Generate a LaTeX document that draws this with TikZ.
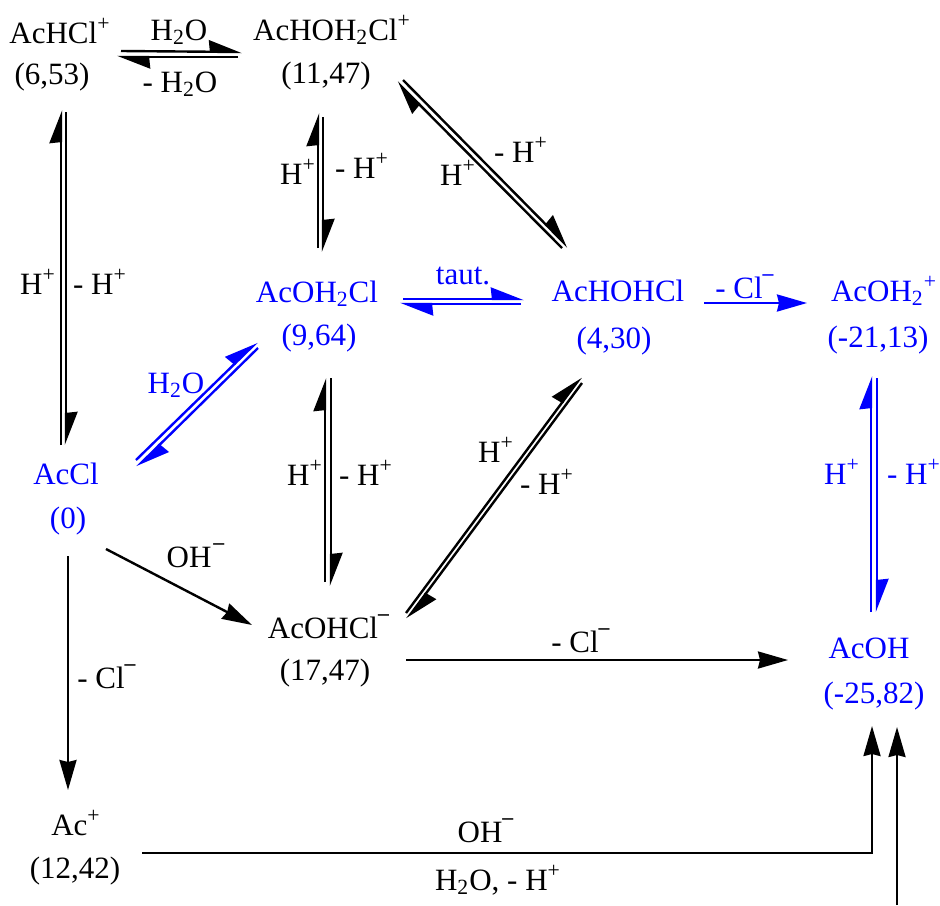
\documentclass[tikz,border=0pt]{standalone}
\usepackage{fontspec}
\setmainfont{Liberation Serif}
\usepackage{tikz}
\usetikzlibrary{arrows.meta}
\definecolor{ChemBlue}{RGB}{0,0,255}
\newcommand{\chgplus}{\raisebox{1.2pt}{\textsuperscript{+}}}
\newcommand{\chgminus}{\raisebox{3.5pt}{\textsuperscript{\textbf{--}}}}
\tikzset{
  txt/.style={anchor=base,inner sep=0pt,font=\fontsize{15.5}{18}\selectfont},
  eqline/.style={line width=1.2pt,-{Stealth[harpoon,length=15pt,width=11.5pt,inset=0.5pt]}},
  oneway/.style={line width=1.2pt,-{Stealth[length=15pt,width=8.5pt,inset=1pt]}}
}
\begin{document}
\begin{tikzpicture}[x=0.5pt,y=-0.5pt]
        \useasboundingbox (0,0) rectangle (940,905);
        % species
        \node[txt] (achcl) at (60,43) {AcHCl\chgplus};
        \node[txt] (achclv) at (52,84) {(6,53)};
        \node[txt] (achoh) at (332,40) {AcHOH\textsubscript{2}Cl\chgplus};
        \node[txt] (achohv) at (326,83) {(11,47)};
        \node[txt,ChemBlue] (acohcl2) at (317,302) {AcOH\textsubscript{2}Cl};
        \node[txt,ChemBlue] (acohcl2v) at (319,345) {(9,64)};
        \node[txt,ChemBlue] (achohcl) at (618,301) {AcHOHCl};
        \node[txt,ChemBlue] (achohclv) at (614,348) {(4,30)};
        \node[txt,ChemBlue] (acohtwo) at (884,301) {AcOH\textsubscript{2}\chgplus};
        \node[txt,ChemBlue] (acohtwov) at (878,347) {(-21,13)};
        \node[txt,ChemBlue] (acl) at (66,484) {AcCl};
        \node[txt,ChemBlue] (aclv) at (68,528) {(0)};
        \node[txt] (acohcl) at (329,638) {AcOHCl\chgminus};
        \node[txt] (acohclv) at (325,680) {(17,47)};
        \node[txt,ChemBlue] (acoh) at (869,658) {AcOH};
        \node[txt,ChemBlue] (acohv) at (874,703) {(-25,82)};
        \node[txt] (acp) at (76,835) {Ac\chgplus};
        \node[txt] (acpv) at (75,878) {(12,42)};
        % labels
        \node[txt] (lwatera) at (179,40) {H\textsubscript{2}O};
        \node[txt] (lwaterb) at (180,92) {- H\textsubscript{2}O};
        \node[txt] (lhpa) at (38,294) {H\chgplus};
        \node[txt] (lhma) at (100,294) {- H\chgplus};
        \node[txt] (lhpb) at (298,184) {H\chgplus};
        \node[txt] (lhmb) at (362,178) {- H\chgplus};
        \node[txt] (lhpc) at (458,185) {H\chgplus};
        \node[txt] (lhmc) at (521,162) {- H\chgplus};
        \node[txt,ChemBlue] (ltaut) at (463,284) {taut.};
        \node[txt,ChemBlue] (lcla) at (745,298) {- Cl\chgminus};
        \node[txt,ChemBlue] (lwaterc) at (176,393) {H\textsubscript{2}O};
        \node[txt] (lhpd) at (305,485) {H\chgplus};
        \node[txt] (lhmd) at (366,485) {- H\chgplus};
        \node[txt] (lhpe) at (496,462) {H\chgplus};
        \node[txt] (lhme) at (547,494) {- H\chgplus};
        \node[txt,ChemBlue] (lhpf) at (842,484) {H\chgplus};
        \node[txt,ChemBlue] (lhmf) at (914,484) {- H\chgplus};
        \node[txt] (loha) at (196,567) {OH\kern1pt\chgminus};
        \node[txt] (lclb) at (107,688) {- Cl\chgminus};
        \node[txt] (lclc) at (581,652) {- Cl\chgminus};
        \node[txt] (lohb) at (486,842) {OH\chgminus};
        \node[txt] (lwaterd) at (498,890) {H\textsubscript{2}O, - H\chgplus};
        % equilibria
        \draw[eqline] ([shift={(61,8)}]achcl.base) -- ([shift={(-90,12)}]achoh.base);
        \draw[eqline] ([shift={(-94,17)}]achoh.base) -- ([shift={(57,14)}]achcl.base);
        \draw[eqline] ([shift={(-5,-39)}]acl.base) -- ([shift={(9,26)}]achclv.base);
        \draw[eqline] ([shift={(14,28)}]achclv.base) -- ([shift={(0,-39)}]acl.base);
        \draw[eqline] ([shift={(1,-54)}]acohcl2.base) -- ([shift={(-8,30)}]achohv.base);
        \draw[eqline] ([shift={(-3,34)}]achohv.base) -- ([shift={(6,-50)}]acohcl2.base);
        \draw[eqline] ([shift={(-56,-53)}]achohcl.base) -- ([shift={(71,-1)}]achohv.base);
        \draw[eqline] ([shift={(77,-3)}]achohv.base) -- ([shift={(-50,-54)}]achohcl.base);
        \draw[eqline,ChemBlue] ([shift={(86,-3)}]acohcl2.base) -- ([shift={(-94,-2)}]achohcl.base);
        \draw[eqline,ChemBlue] ([shift={(-97,3)}]achohcl.base) -- ([shift={(83,2)}]acohcl2.base);
        \draw[eqline,ChemBlue] ([shift={(70,-24)}]acl.base) -- ([shift={(-62,-3)}]acohcl2v.base);
        \draw[eqline,ChemBlue] ([shift={(-61,3)}]acohcl2v.base) -- ([shift={(71,-17)}]acl.base);
        \draw[eqline] ([shift={(-4,-56)}]acohcl.base) -- ([shift={(6,33)}]acohcl2v.base);
        \draw[eqline] ([shift={(12,33)}]acohcl2v.base) -- ([shift={(2,-52)}]acohcl.base);
        \draw[eqline] ([shift={(77,-25)}]acohcl.base) -- ([shift={(-33,29)}]achohclv.base);
        \draw[eqline] ([shift={(-32,35)}]achohclv.base) -- ([shift={(78,-19)}]acohcl.base);
        \draw[eqline,ChemBlue] ([shift={(2,-46)}]acoh.base) -- ([shift={(-7,29)}]acohtwov.base);
        \draw[eqline,ChemBlue] ([shift={(-1,31)}]acohtwov.base) -- ([shift={(8,-46)}]acoh.base);
        % one way
        \draw[oneway,ChemBlue] ([shift={(86,2)}]achohcl.base) -- ([shift={(-77,2)}]acohtwo.base);
        \draw[oneway] ([shift={(38,21)}]aclv.base) -- ([shift={(-77,-13)}]acohcl.base);
        \draw[oneway] ([shift={(0,28)}]aclv.base) -- ([shift={(-8,-45)}]acp.base);
        \draw[oneway] ([shift={(77,22)}]acohcl.base) -- ([shift={(-81,2)}]acoh.base);
        \draw[oneway] ([shift={(67,-25)}]acpv.base) -| ([shift={(-2,23)}]acohv.base);
        \coordinate (inflow) at (897,905);
        \draw[oneway] (inflow) -- ([shift={(23,24)}]acohv.base);
\end{tikzpicture}
\end{document}
